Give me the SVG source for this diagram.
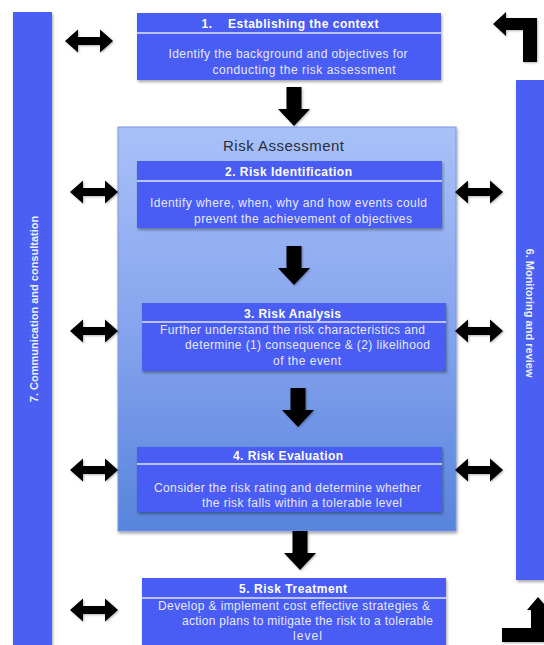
<svg xmlns="http://www.w3.org/2000/svg" width="544" height="645" viewBox="0 0 544 645">
<defs>
  <linearGradient id="raGrad" x1="0" y1="0" x2="0" y2="1">
    <stop offset="0" stop-color="#a9c1f8"/>
    <stop offset="0.5" stop-color="#86a4ee"/>
    <stop offset="1" stop-color="#5784dc"/>
  </linearGradient>
  <filter id="shadow" x="-10%" y="-10%" width="120%" height="130%">
    <feDropShadow dx="1" dy="2" stdDeviation="1.5" flood-color="#000" flood-opacity="0.35"/>
  </filter>
  <filter id="ashadow" x="-20%" y="-20%" width="140%" height="140%">
    <feDropShadow dx="1" dy="1" stdDeviation="1.2" flood-color="#000" flood-opacity="0.3"/>
  </filter>
  <path id="dbl" d="M-24,0 L-11,-11.5 L-11,-4 L11,-4 L11,-11.5 L24,0 L11,11.5 L11,4 L-11,4 L-11,11.5 Z"/>
  <path id="down" d="M-7.5,0 L7.5,0 L7.5,22 L16,22 L0,39 L-16,22 L-7.5,22 Z"/>
</defs>
<style>
  .box { fill: #4a5cf4; filter: url(#shadow); }
  .bar { fill: #4c60f2; filter: url(#shadow); }
  .sep { stroke: #dfe4ff; stroke-width: 1.5; }
  .hdr { font-family: "Liberation Sans", Arial, sans-serif; font-weight: bold; font-size: 12px; fill: #ffffff; text-anchor: middle; }
  .body { font-family: "Liberation Sans", Arial, sans-serif; font-size: 12px; fill: #e6e9ff; text-anchor: middle; }
  .vtxt { font-family: "Liberation Sans", Arial, sans-serif; font-weight: bold; font-size: 11px; fill: #eef0ff; text-anchor: middle; }
  .title { font-family: "Liberation Sans", Arial, sans-serif; font-size: 15px; fill: #2a2f3a; text-anchor: middle; }
  .arr { fill: #000; filter: url(#ashadow); }
</style>

<g id="comm">
  <rect class="bar" x="13" y="12" width="39" height="640"/>
  <text class="vtxt" transform="translate(38,309) rotate(-90)">7. Communication and consultation</text>
</g>

<g id="monitor">
  <rect class="bar" x="516" y="80" width="34" height="500"/>
  <text class="vtxt" transform="translate(526,313) rotate(90)">6. Monitoring and review</text>
</g>

<g id="context">
  <rect class="box" x="137" y="13" width="304" height="67"/>
  <line class="sep" x1="137" y1="33" x2="441" y2="33"/>
  <text class="hdr" x="290" y="27.5" textLength="177" style="white-space:pre">1.    Establishing the context</text>
  <text class="body" x="288" y="57.5" textLength="239">Identify the background and objectives for</text>
  <text class="body" x="304" y="73.5" textLength="183">conducting the risk assessment</text>
</g>

<g id="assessment">
  <rect x="118" y="127" width="338" height="404" fill="url(#raGrad)" stroke="#7d98e0" stroke-width="1" filter="url(#shadow)"/>
  <text class="title" x="283.5" y="151" textLength="121">Risk Assessment</text>
</g>

<g id="identification">
  <rect class="box" x="137" y="161" width="305" height="67"/>
  <line class="sep" x1="137" y1="181" x2="442" y2="181"/>
  <text class="hdr" x="288.5" y="175.5" textLength="127">2. Risk Identification</text>
  <text class="body" x="288.5" y="206.5" textLength="277">Identify where, when, why and how events could</text>
  <text class="body" x="303" y="222.5" textLength="218">prevent the achievement of objectives</text>
</g>

<g id="analysis">
  <rect class="box" x="142" y="303" width="304" height="68"/>
  <line class="sep" x1="142" y1="322" x2="446" y2="322"/>
  <text class="hdr" x="292.5" y="317.5" textLength="97">3. Risk Analysis</text>
  <text class="body" x="292.5" y="333.5" textLength="265">Further understand the risk characteristics and</text>
  <text class="body" x="307.5" y="348.5" textLength="245">determine (1) consequence &amp; (2) likelihood</text>
  <text class="body" x="307" y="364.5" textLength="68">of the event</text>
</g>

<g id="evaluation">
  <rect class="box" x="137" y="447" width="305" height="65"/>
  <line class="sep" x1="137" y1="464" x2="442" y2="464"/>
  <text class="hdr" x="288" y="459.5" textLength="110">4. Risk Evaluation</text>
  <text class="body" x="287.5" y="491.5" textLength="267">Consider the risk rating and determine whether</text>
  <text class="body" x="302" y="506.5" textLength="200">the risk falls within a tolerable level</text>
</g>

<g id="treatment">
  <rect class="box" x="142" y="578" width="304" height="72"/>
  <line class="sep" x1="142" y1="598" x2="446" y2="598"/>
  <text class="hdr" x="293" y="592.5" textLength="108">5. Risk Treatment</text>
  <text class="body" x="294" y="609.5" textLength="272">Develop &amp; implement cost effective strategies &amp;</text>
  <text class="body" x="307.5" y="624.5" textLength="251">action plans to mitigate the risk to a tolerable</text>
  <text class="body" x="307.5" y="639.5" textLength="29">level</text>
</g>

<g id="connectors">
  <use href="#dbl" class="arr" x="89" y="41"/>
  <use href="#dbl" class="arr" x="94" y="192"/>
  <use href="#dbl" class="arr" x="479" y="192"/>
  <use href="#dbl" class="arr" x="94" y="331"/>
  <use href="#dbl" class="arr" x="479" y="331"/>
  <use href="#dbl" class="arr" x="94" y="470"/>
  <use href="#dbl" class="arr" x="479" y="470"/>
  <use href="#dbl" class="arr" x="94" y="610"/>
  <use href="#down" class="arr" x="294" y="87"/>
  <use href="#down" class="arr" x="294" y="246"/>
  <use href="#down" class="arr" x="298" y="388"/>
  <use href="#down" class="arr" x="300" y="531"/>
  <path class="arr" d="M493,24 L506,12 L506,18 L537,18 L537,62 L523,62 L523,30 L506,30 L506,36 Z"/>
  <path class="arr" d="M538,597 L549,610 L545,610 L545,642 L502,642 L502,628 L531,628 L531,610 L527,610 Z"/>
</g>
</svg>
